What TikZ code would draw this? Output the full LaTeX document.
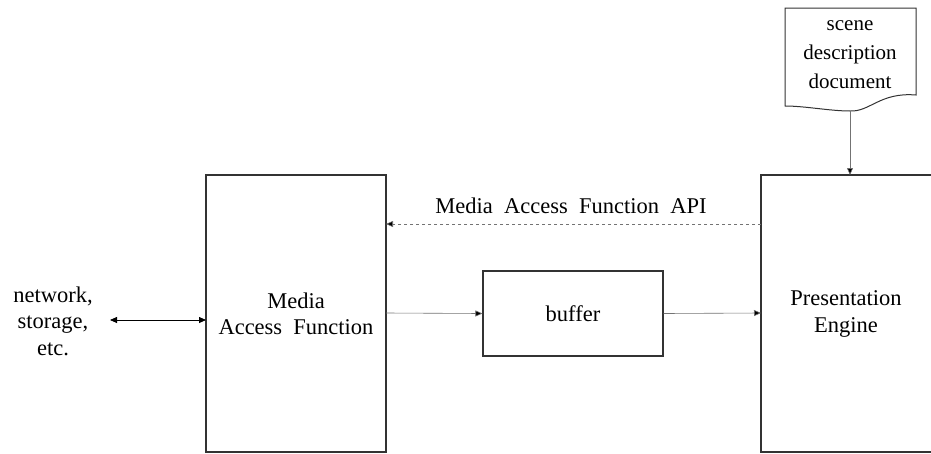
\documentclass[tikz,border=0pt]{standalone}
\usepackage{fontspec}
\setmainfont{Liberation Serif}
\usetikzlibrary{arrows.meta}
\begin{document}
\begin{tikzpicture}[x=1pt,y=-1pt,
  txt/.style={font=\fontsize{22.5}{26.5}\selectfont, align=center, inner sep=0pt},
  doctxt/.style={font=\fontsize{21}{29}\selectfont, align=center, inner sep=0pt},
  boxline/.style={draw=black!80, line width=1.2pt},
  conn/.style={draw=black!55, line width=0.6pt, -{Triangle[length=7pt,width=6pt,fill=black]}},
  ]
\useasboundingbox (0,0) rectangle (931,453);
\begin{scope}
\clip (0,0) rectangle (931,453);
% boxes
\draw[boxline] (206,175) rectangle (386,452);
\coordinate (mafW) at (206,320);
\draw[boxline] (761,175) rectangle (960,452);
\node[txt] (maf) at (296,314) {Media\\Access\ \ Function};
\node[txt] (pe) at (846,314) {Presentation\\Engine};
\node[draw=black!80, line width=1.2pt, minimum width=180pt, minimum height=85pt, inner sep=0pt] (buf) at (573,313.5) {};
\node[txt] at (buf.center) {buffer};
% document shape
\draw[boxline, line width=1pt] (785,8) -- (916,8) -- (916,95)
   .. controls (880,92) and (870,112) .. (850,111)
   .. controls (830,111) and (805,106) .. (785,106) -- cycle;
\node[doctxt] (doc) at (850,55) {scene\\description\\document};
\coordinate (docB) at (850,111);
\coordinate (peT) at (850,175);
\draw[conn] (docB) -- (peT);
% network
\node[txt] (net) at (53,321) {network,\\storage,\\etc.};
\draw[draw=black, line width=0.8pt, {Triangle[length=7pt,width=6pt]}-{Triangle[length=7pt,width=6pt]}] (110,320) -- (mafW);
% flows
\coordinate (mafE) at (386,313);
\coordinate (peW) at (761,313);
\draw[conn] (mafE) -- (buf.west);
\draw[conn] (buf.east) -- (peW);
\coordinate (apiS) at (761,224);
\coordinate (apiE) at (386,224);
\draw[conn, dashed] (apiS) -- (apiE);
\node[txt] (api) at (571,206) {Media\ \ Access\ \ Function\ \ API};
\end{scope}
\end{tikzpicture}
\end{document}
